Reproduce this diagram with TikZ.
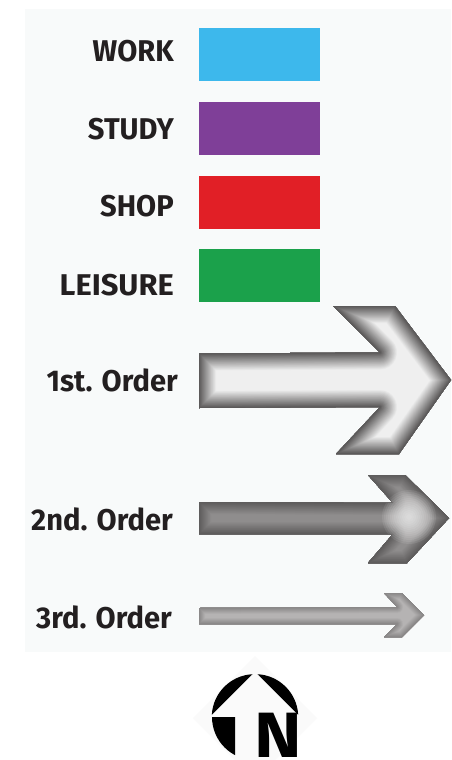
\documentclass[tikz,border=0pt]{standalone}
\usepackage{fontspec}
\setmainfont{Fira Sans}
\usepackage{xcolor}
\usepackage{tikz}
\usetikzlibrary{positioning}

\definecolor{panel}{HTML}{F8FAFA}
\definecolor{workblue}{HTML}{3DB8EC}
\definecolor{studypurple}{HTML}{7F3F98}
\definecolor{shopred}{HTML}{E11F26}
\definecolor{leisuregreen}{HTML}{1BA14B}
\definecolor{labelink}{HTML}{231F20}
\definecolor{firstedge}{HTML}{5B5959}
\definecolor{firstcore}{HTML}{EFEFEF}
\definecolor{secondedge}{HTML}{5E5C5C}
\definecolor{secondcore}{HTML}{8F8D8D}
\definecolor{thirdedge}{HTML}{8A8888}
\definecolor{thirdcore}{HTML}{B5B3B3}

\tikzset{
    swatch/.style={minimum width=121pt, minimum height=53pt, inner sep=0pt, draw=none},
    legendlabel/.style={font=\bfseries\fontsize{30}{30}\selectfont, text=labelink, inner sep=0pt, xscale=.97, anchor=east},
    orderlabel/.style={font=\bfseries\fontsize{30}{30}\selectfont, text=labelink, inner sep=0pt, xscale=.97, anchor=east}
}

% path, edge colour, core colour, glow width
\newcommand{\orderarrow}[4]{
    \begin{scope}
        \clip #1;
        \fill[#3] #1;
        \foreach \k in {1,...,30}{
            \pgfmathsetmacro{\mixpct}{100*(\k/30)}
            \pgfmathsetmacro{\wdth}{2*#4*(31-\k)/30}
            \draw[color=#2!\mixpct!#3, line width=\wdth pt, line join=round] #1;
        }
    \end{scope}
}

\begin{document}
\begin{tikzpicture}[x=1pt, y=-1pt]
    \useasboundingbox (0,0) rectangle (451,760);
    \fill[white] (0,0) rectangle (451,760);
    \fill[panel] (25,9) rectangle (451,652);

    % legend
    \node[swatch, fill=workblue] (work) at (259.5,54.5) {};
    \node[swatch, fill=studypurple] (study) at (259.5,128.5) {};
    \node[swatch, fill=shopred] (shop) at (259.5,202.5) {};
    \node[swatch, fill=leisuregreen] (leisure) at (259.5,275.5) {};
    \node[legendlabel] (worklabel) at (174,51) {WORK};
    \node[legendlabel] (studylabel) at (174,129) {STUDY};
    \node[legendlabel] (shoplabel) at (174,206) {SHOP};
    \node[legendlabel, xscale=1.06] (leisurelabel) at (174,285) {LEISURE};

    % arrows
    \orderarrow{(199,353.5) -- (380,352.5) -- (333,306) -- (395,306) -- (451,380) -- (399,454) -- (336,454) -- (380,407) -- (199,408) -- cycle}{firstedge}{firstcore}{17}
    \orderarrow{(199,502) -- (393,503) -- (368,475) -- (405,475) -- (449,518) -- (407,563) -- (368,563) -- (393,534) -- (199,534) -- cycle}{secondedge}{secondcore}{12}
    \foreach \r in {3,5,...,27}{
        \begin{scope}
            \clip (199,502) -- (393,503) -- (368,475) -- (405,475) -- (449,518) -- (407,563) -- (368,563) -- (393,534) -- (199,534) -- cycle;
            \fill[white, opacity=.09] (409,517) circle (\r);
        \end{scope}
    }
    \orderarrow{(199,608) -- (397,607) -- (384,593) -- (402,593) -- (424,615) -- (402,637) -- (384,637) -- (397,624) -- (199,624) -- cycle}{thirdedge}{thirdcore}{6}

    \node[orderlabel] (firstlabel) at (178,380) {1st. Order};
    \node[orderlabel] (secondlabel) at (173,519) {2nd. Order};
    \node[orderlabel] (thirdlabel) at (172,617) {3rd. Order};

    % north mark
    \fill[black!2] (193,718) -- (255,656) -- (317,718) -- (275,760) -- (235,760) -- cycle;
    \fill[black] (252.5,674.2) arc[start angle=-93, end angle=-177, radius=43] -- cycle;
    \fill[black] (257.5,674.2) arc[start angle=-87, end angle=-3, radius=43] -- cycle;
    \begin{scope}
        \clip (0,717) rectangle (235,760);
        \fill[black] (255,717) circle (43);
    \end{scope}
    \begin{scope}
        \clip (0,0) rectangle (451,760);
        \node[font=\bfseries\fontsize{64}{64}\selectfont, text=black, inner sep=0pt, anchor=north west, xscale=1.12] (northlabel) at (254,713) {N};
    \end{scope}
\end{tikzpicture}
\end{document}
